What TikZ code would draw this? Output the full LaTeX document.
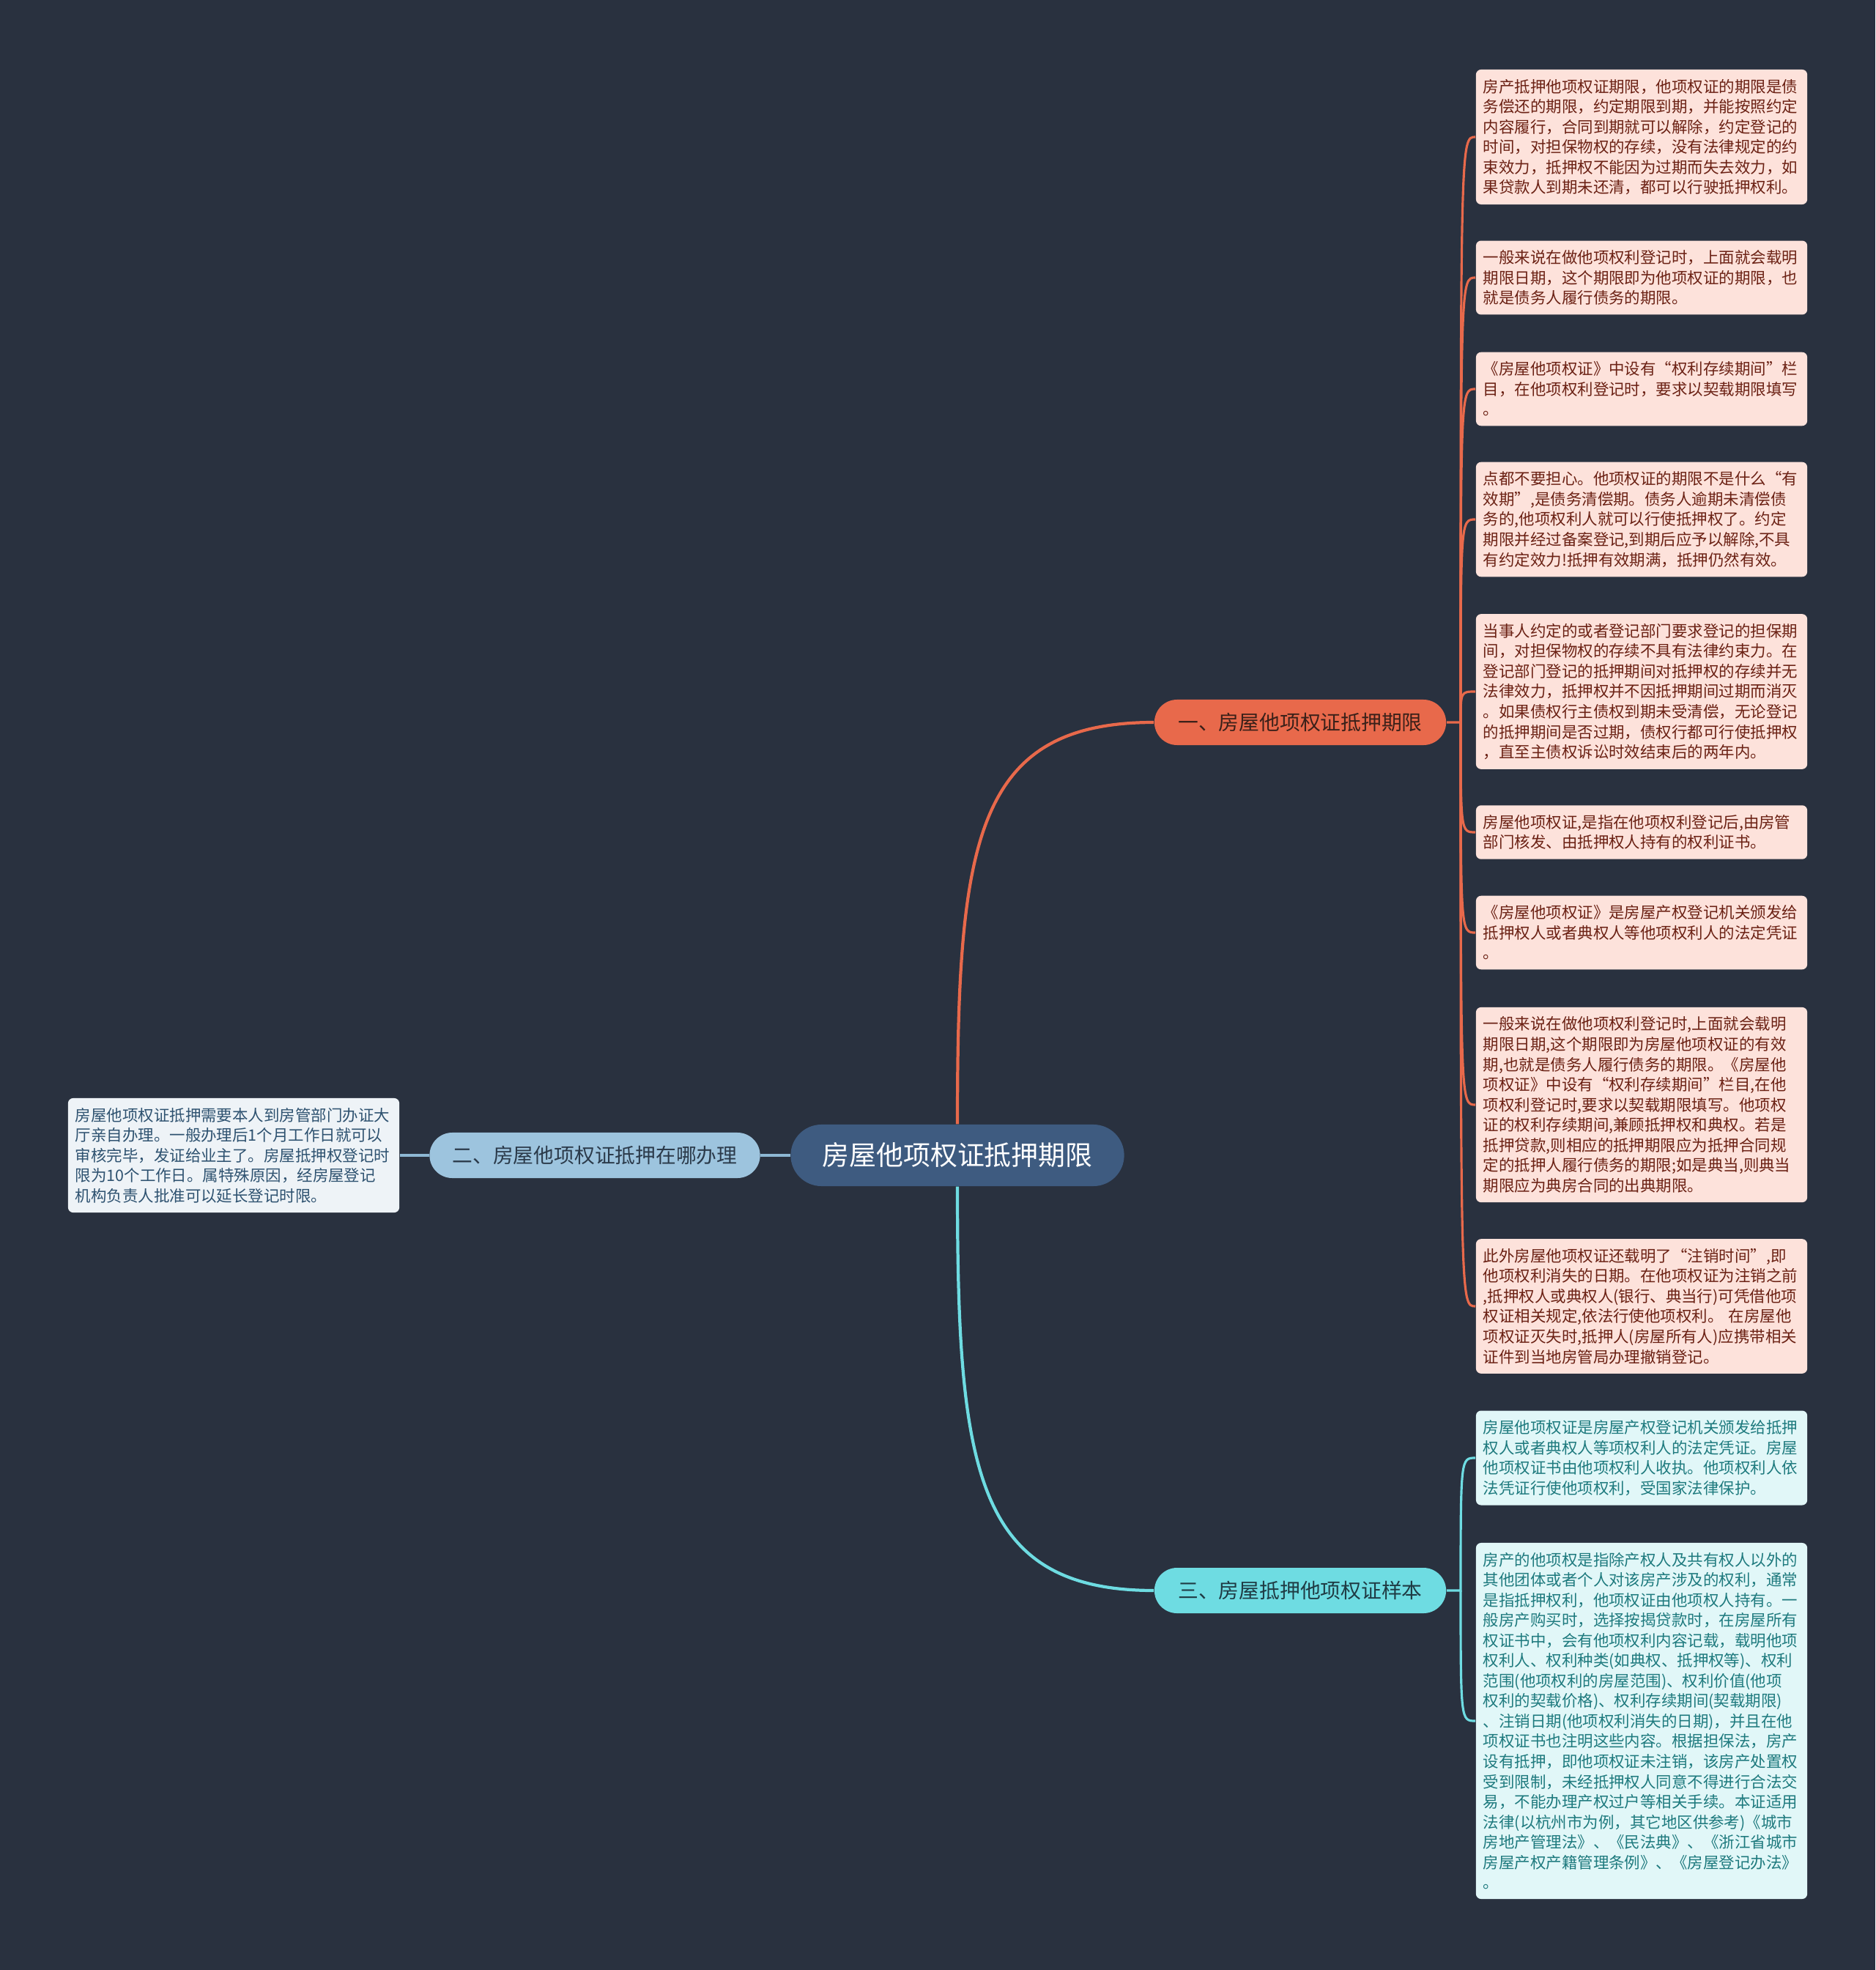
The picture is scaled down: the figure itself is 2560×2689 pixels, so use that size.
\documentclass[tikz,border=0pt]{standalone}
\usepackage{fontspec}
\setmainfont{Noto Sans CJK SC}
\usetikzlibrary{calc}

\definecolor{bgdark}{HTML}{29313F}
\definecolor{rootblue}{HTML}{3E5B80}
\definecolor{orangemain}{HTML}{E8694B}
\definecolor{orangeleaf}{HTML}{FDE2DB}
\definecolor{orangetext}{HTML}{6B2114}
\definecolor{orangebtext}{HTML}{3A2019}
\definecolor{skymain}{HTML}{9DC4DE}
\definecolor{skyline}{HTML}{8DB7D3}
\definecolor{skyleaf}{HTML}{EEF3F7}
\definecolor{skytext}{HTML}{2E5270}
\definecolor{skybtext}{HTML}{2B3A4A}
\definecolor{tealmain}{HTML}{6EDCE2}
\definecolor{tealleaf}{HTML}{E1F7F8}
\definecolor{tealtext}{HTML}{1E7A7E}
\definecolor{tealbtext}{HTML}{1F3B44}

\begin{document}
\begin{tikzpicture}[x=0.01cm, y=-0.01cm,
    rootnode/.style={fill=rootblue, text=white, rounded corners=0.42cm,
        minimum width=4.55cm, minimum height=0.84cm, inner sep=0pt,
        font=\fontsize{10.5}{12}\selectfont},
    branchnode/.style={rounded corners=0.31cm, minimum height=0.62cm,
        inner sep=0pt, font=\fontsize{7.9}{9}\selectfont},
    leafbox/.style={rounded corners=0.07cm, text width=4.32cm,
        inner xsep=0.1cm, inner ysep=0.13cm, align=left,
        font=\fontsize{6.1}{7.83}\selectfont},
    orangeleaf/.style={leafbox, fill=orangeleaf, text=orangetext},
    tealleaf/.style={leafbox, fill=tealleaf, text=tealtext},
    skyleaf/.style={leafbox, fill=skyleaf, text=skytext},
    mainline/.style={line width=1.2pt},
    leafline/.style={line width=0.9pt}]

    % Background
    \fill[bgdark] (0,0) rectangle (2560,2689);
    \useasboundingbox (0,0) rectangle (2560,2689);

    % Centre and branches
    \node[rootnode] (root) at (1307,1577) {房屋他项权证抵押期限};
    \node[branchnode, fill=orangemain, text=orangebtext, minimum width=3.98cm] (b1) at (1775,986) {一、房屋他项权证抵押期限};
    \node[branchnode, fill=skymain, text=skybtext, minimum width=4.51cm] (b2) at (812,1577) {二、房屋他项权证抵押在哪办理};
    \node[branchnode, fill=tealmain, text=tealbtext, minimum width=3.98cm] (b3) at (1775,2171) {三、房屋抵押他项权证样本};

    % Leaves of branch one
    \node[orangeleaf] (l1) at (2241,187) {房产抵押他项权证期限，他项权证的期限是债\\务偿还的期限，约定期限到期，并能按照约定\\内容履行，合同到期就可以解除，约定登记的\\时间，对担保物权的存续，没有法律规定的约\\束效力，抵押权不能因为过期而失去效力，如\\果贷款人到期未还清，都可以行驶抵押权利。};
    \node[orangeleaf] (l2) at (2241,379) {一般来说在做他项权利登记时，上面就会载明\\期限日期，这个期限即为他项权证的期限，也\\就是债务人履行债务的期限。};
    \node[orangeleaf] (l3) at (2241,531) {《房屋他项权证》中设有“权利存续期间”栏\\目，在他项权利登记时，要求以契载期限填写\\。};
    \node[orangeleaf] (l4) at (2241,709) {点都不要担心。他项权证的期限不是什么“有\\效期”,是债务清偿期。债务人逾期未清偿债\\务的,他项权利人就可以行使抵押权了。约定\\期限并经过备案登记,到期后应予以解除,不具\\有约定效力!抵押有效期满，抵押仍然有效。};
    \node[orangeleaf] (l5) at (2241,944) {当事人约定的或者登记部门要求登记的担保期\\间，对担保物权的存续不具有法律约束力。在\\登记部门登记的抵押期间对抵押权的存续并无\\法律效力，抵押权并不因抵押期间过期而消灭\\。如果债权行主债权到期未受清偿，无论登记\\的抵押期间是否过期，债权行都可行使抵押权\\，直至主债权诉讼时效结束后的两年内。};
    \node[orangeleaf] (l6) at (2241,1136) {房屋他项权证,是指在他项权利登记后,由房管\\部门核发、由抵押权人持有的权利证书。};
    \node[orangeleaf] (l7) at (2241,1273) {《房屋他项权证》是房屋产权登记机关颁发给\\抵押权人或者典权人等他项权利人的法定凭证\\。};
    \node[orangeleaf] (l8) at (2241,1508) {一般来说在做他项权利登记时,上面就会载明\\期限日期,这个期限即为房屋他项权证的有效\\期,也就是债务人履行债务的期限。《房屋他\\项权证》中设有“权利存续期间”栏目,在他\\项权利登记时,要求以契载期限填写。他项权\\证的权利存续期间,兼顾抵押权和典权。若是\\抵押贷款,则相应的抵押期限应为抵押合同规\\定的抵押人履行债务的期限;如是典当,则典当\\期限应为典房合同的出典期限。};
    \node[orangeleaf] (l9) at (2241,1783) {此外房屋他项权证还载明了“注销时间”,即\\他项权利消失的日期。在他项权证为注销之前\\,抵押权人或典权人(银行、典当行)可凭借他项\\权证相关规定,依法行使他项权利。 在房屋他\\项权证灭失时,抵押人(房屋所有人)应携带相关\\证件到当地房管局办理撤销登记。};

    % Leaf of branch two
    \node[skyleaf] (m1) at (319,1577) {房屋他项权证抵押需要本人到房管部门办证大\\厅亲自办理。一般办理后1个月工作日就可以\\审核完毕，发证给业主了。房屋抵押权登记时\\限为10个工作日。属特殊原因，经房屋登记\\机构负责人批准可以延长登记时限。};

    % Leaves of branch three
    \node[tealleaf] (t1) at (2241,1990) {房屋他项权证是房屋产权登记机关颁发给抵押\\权人或者典权人等项权利人的法定凭证。房屋\\他项权证书由他项权利人收执。他项权利人依\\法凭证行使他项权利，受国家法律保护。};
    \node[tealleaf] (t2) at (2241,2349) {房产的他项权是指除产权人及共有权人以外的\\其他团体或者个人对该房产涉及的权利，通常\\是指抵押权利，他项权证由他项权人持有。一\\般房产购买时，选择按揭贷款时，在房屋所有\\权证书中，会有他项权利内容记载，载明他项\\权利人、权利种类(如典权、抵押权等)、权利\\范围(他项权利的房屋范围)、权利价值(他项\\权利的契载价格)、权利存续期间(契载期限)\\、注销日期(他项权利消失的日期)，并且在他\\项权证书也注明这些内容。根据担保法，房产\\设有抵押，即他项权证未注销，该房产处置权\\受到限制，未经抵押权人同意不得进行合法交\\易，不能办理产权过户等相关手续。本证适用\\法律(以杭州市为例，其它地区供参考)《城市\\房地产管理法》、《民法典》、《浙江省城市\\房屋产权产籍管理条例》、《房屋登记办法》\\。};

    % Centre to branches
    \draw[mainline, orangemain] (root.north) .. controls ($(root.north)+(0,-385)$) and ($(b1.west)+(-245,0)$) .. (b1.west);
    \draw[mainline, tealmain] (root.south) .. controls ($(root.south)+(0,385)$) and ($(b3.west)+(-245,0)$) .. (b3.west);
    \draw[mainline, skyline] (root.west) -- (b2.east);
    \draw[leafline, skyline] (b2.west) -- (m1.east);

    % Fan points
    \coordinate (fan1) at (1994,986);
    \coordinate (fan3) at (1994,2171);

    % Branch one to its leaves
    \draw[leafline, orangemain] (b1.east) -- (fan1) .. controls (fan1 |- l1.west) .. (l1.west);
    \draw[leafline, orangemain] (fan1) .. controls (fan1 |- l2.west) .. (l2.west);
    \draw[leafline, orangemain] (fan1) .. controls (fan1 |- l3.west) .. (l3.west);
    \draw[leafline, orangemain] (fan1) .. controls (fan1 |- l4.west) .. (l4.west);
    \draw[leafline, orangemain] (fan1) .. controls (fan1 |- l5.west) .. (l5.west);
    \draw[leafline, orangemain] (fan1) .. controls (fan1 |- l6.west) .. (l6.west);
    \draw[leafline, orangemain] (fan1) .. controls (fan1 |- l7.west) .. (l7.west);
    \draw[leafline, orangemain] (fan1) .. controls (fan1 |- l8.west) .. (l8.west);
    \draw[leafline, orangemain] (fan1) .. controls (fan1 |- l9.west) .. (l9.west);

    % Branch three to its leaves
    \draw[leafline, tealmain] (b3.east) -- (fan3) .. controls (fan3 |- t1.west) .. (t1.west);
    \draw[leafline, tealmain] (fan3) .. controls (fan3 |- t2.west) .. (t2.west);
\end{tikzpicture}
\end{document}
